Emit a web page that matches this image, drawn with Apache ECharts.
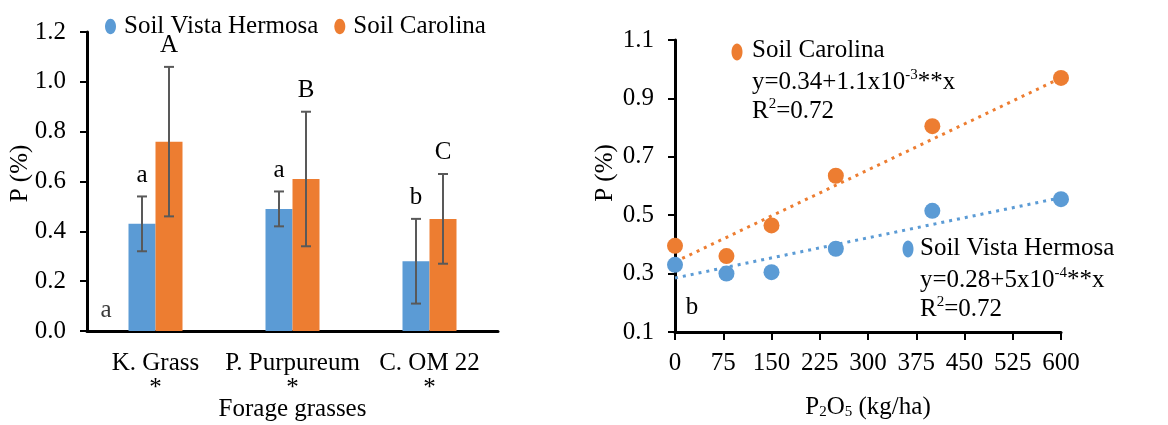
<!DOCTYPE html>
<html><head><meta charset="utf-8">
<script src="https://cdn.jsdelivr.net/npm/echarts@6/dist/echarts.min.js"></script>
<style>html,body{margin:0;padding:0;background:#fff}#c{width:1168px;height:425px}</style>
</head><body><div id="c"></div>
<script>
// ---- Left panel data (bar chart) ----
const categories = ['K. Grass', 'P. Purpureum', 'C. OM 22'];
const categoryMarks = ['*', '*', '*'];
const vistaMeans = [0.43, 0.49, 0.28];
const carolinaMeans = [0.76, 0.61, 0.45];
const vistaLow = [0.32, 0.42, 0.11];
const vistaHigh = [0.54, 0.56, 0.45];
const carolinaLow = [0.46, 0.34, 0.27];
const carolinaHigh = [1.06, 0.88, 0.63];
const vistaLetters = ['a', 'a', 'b'];
const carolinaLetters = ['A', 'B', 'C'];
const leftTicks = [0, 1.2, 0.2]; // min, max, interval

// ---- Right panel data (scatter + trend) ----
const doses = [0, 80, 150, 250, 400, 600];
const carolinaP = [0.395, 0.36, 0.465, 0.635, 0.805, 0.97];
const vistaP = [0.33, 0.30, 0.305, 0.385, 0.515, 0.555];
const trendX = [0, 600];
const carolinaTrend = [0.34, 0.97];
const vistaTrend = [0.285, 0.56];
const rightYTicks = [0.1, 1.1, 0.2];
const rightXTicks = [0, 600, 75];

const FONT = "'Liberation Serif','Times New Roman',serif";
const BLUE = '#5B9BD5', ORANGE = '#ED7D31', ERR = '#595959';
const FS = 25;
const BAR_W = 27;

const chart = echarts.init(document.getElementById('c'));

function errRender(sign, letters) {
  return function (params, api) {
    const idx = api.value(0);
    const top = api.coord([idx, api.value(2)]);
    const bot = api.coord([idx, api.value(1)]);
    const x = top[0] + sign * BAR_W / 2;
    const cap = 5;
    const st = { stroke: ERR, lineWidth: 2 };
    return {
      type: 'group',
      children: [
        { type: 'line', shape: { x1: x, y1: top[1], x2: x, y2: bot[1] }, style: st },
        { type: 'line', shape: { x1: x - cap, y1: top[1], x2: x + cap, y2: top[1] }, style: st },
        { type: 'line', shape: { x1: x - cap, y1: bot[1], x2: x + cap, y2: bot[1] }, style: st },
        { type: 'text', x: x, y: top[1] - 9,
          style: { text: letters[params.dataIndex], fontFamily: FONT, fontSize: FS, fill: '#000', align: 'center', verticalAlign: 'bottom' } }
      ]
    };
  };
}

const ellipsePath = 'path://M5,0 C7.76,0 10,3.13 10,7 C10,10.87 7.76,14 5,14 C2.24,14 0,10.87 0,7 C0,3.13 2.24,0 5,0 Z';

const txt = { fontFamily: FONT, fontSize: FS, color: '#000' };
const supRich = {
  sup: { fontFamily: FONT, fontSize: 15, color: '#000', verticalAlign: 'top', lineHeight: 14 },
  sub: { fontFamily: FONT, fontSize: 15, color: '#000', verticalAlign: 'bottom', lineHeight: 14 }
};

const option = {
  animation: false,
  textStyle: { fontFamily: FONT },
  legend: {
    data: ['Soil Vista Hermosa', 'Soil Carolina'],
    left: 100, top: 9,
    icon: ellipsePath, itemWidth: 11, itemHeight: 17, itemGap: 16,
    textStyle: { fontFamily: FONT, fontSize: FS, color: '#000', padding: [0, 0, 0, 3] }
  },
  grid: [
    { left: 87, top: 32, width: 411, height: 299, outerBoundsMode: 'none', containLabel: false },
    { left: 675, top: 40, width: 386, height: 292, outerBoundsMode: 'none', containLabel: false }
  ],
  xAxis: [
    {
      type: 'category', gridIndex: 0, data: categories,
      axisLine: { lineStyle: { color: '#000', width: 3 } },
      axisTick: { show: false },
      axisLabel: {
        margin: 20, interval: 0,
        formatter: (v, i) => v + '\n' + categoryMarks[i],
        fontFamily: FONT, fontSize: FS, color: '#000', lineHeight: 25
      },
      name: 'Forage grasses', nameLocation: 'middle', nameGap: 66, nameMoveOverlap: false,
      nameTextStyle: txt
    },
    {
      type: 'value', gridIndex: 1, min: rightXTicks[0], max: rightXTicks[1], interval: rightXTicks[2],
      axisLine: { onZero: false, lineStyle: { color: '#000', width: 3 } },
      axisTick: { show: true, length: 8, lineStyle: { color: '#000', width: 2 } },
      splitLine: { show: false },
      axisLabel: { margin: 19, fontFamily: FONT, fontSize: FS, color: '#000' },
      name: 'P{sub|2}O{sub|5} (kg/ha)', nameLocation: 'middle', nameGap: 63, nameMoveOverlap: false,
      nameTextStyle: Object.assign({}, txt, { rich: supRich })
    }
  ],
  yAxis: [
    {
      type: 'value', gridIndex: 0, min: leftTicks[0], max: leftTicks[1], interval: leftTicks[2],
      axisLine: { show: true, lineStyle: { color: '#000', width: 3 } },
      axisTick: { show: true, length: 7, lineStyle: { color: '#000', width: 2 } },
      splitLine: { show: false },
      axisLabel: { margin: 21, formatter: v => v.toFixed(1), fontFamily: FONT, fontSize: FS, color: '#000' },
      name: 'P (%)', nameLocation: 'middle', nameGap: 54, nameRotate: 90, nameMoveOverlap: false,
      nameTextStyle: Object.assign({}, txt, { padding: [0, 0, 0, 16] })
    },
    {
      type: 'value', gridIndex: 1, min: rightYTicks[0], max: rightYTicks[1], interval: rightYTicks[2],
      axisLine: { show: true, onZero: false, lineStyle: { color: '#000', width: 3 } },
      axisTick: { show: true, length: 7, lineStyle: { color: '#000', width: 2 } },
      splitLine: { show: false },
      axisLabel: { margin: 21, formatter: v => v.toFixed(1), fontFamily: FONT, fontSize: FS, color: '#000' },
      name: 'P (%)', nameLocation: 'middle', nameGap: 57, nameRotate: 90, nameMoveOverlap: false,
      nameTextStyle: Object.assign({}, txt, { padding: [0, 0, 0, 26] })
    }
  ],
  series: [
    { name: 'Soil Vista Hermosa', type: 'bar', xAxisIndex: 0, yAxisIndex: 0, data: vistaMeans,
      barWidth: BAR_W, barGap: '0%', itemStyle: { color: BLUE } },
    { name: 'Soil Carolina', type: 'bar', xAxisIndex: 0, yAxisIndex: 0, data: carolinaMeans,
      barWidth: BAR_W, barGap: '0%', itemStyle: { color: ORANGE } },
    { name: 'errVista', type: 'custom', xAxisIndex: 0, yAxisIndex: 0, z: 5,
      data: categories.map((c, i) => [i, vistaLow[i], vistaHigh[i]]),
      renderItem: errRender(-1, vistaLetters) },
    { name: 'errCarolina', type: 'custom', xAxisIndex: 0, yAxisIndex: 0, z: 5,
      data: categories.map((c, i) => [i, carolinaLow[i], carolinaHigh[i]]),
      renderItem: errRender(1, carolinaLetters) },
    { name: 'trendCarolina', type: 'line', xAxisIndex: 1, yAxisIndex: 1, showSymbol: false, z: 1,
      data: trendX.map((x, i) => [x, carolinaTrend[i]]),
      lineStyle: { color: ORANGE, width: 3, type: [3, 5] } },
    { name: 'trendVista', type: 'line', xAxisIndex: 1, yAxisIndex: 1, showSymbol: false, z: 1,
      data: trendX.map((x, i) => [x, vistaTrend[i]]),
      lineStyle: { color: BLUE, width: 3, type: [3, 5] } },
    { name: 'Carolina dose', type: 'scatter', xAxisIndex: 1, yAxisIndex: 1, symbolSize: 16, z: 3,
      data: doses.map((d, i) => [d, carolinaP[i]]), itemStyle: { color: ORANGE, opacity: 1 } },
    { name: 'Vista dose', type: 'scatter', xAxisIndex: 1, yAxisIndex: 1, symbolSize: 16, z: 3,
      data: doses.map((d, i) => [d, vistaP[i]]), itemStyle: { color: BLUE, opacity: 1 } }
  ],
  graphic: [
    { type: 'text', x: 106, y: 310, style: { text: 'a', fontFamily: FONT, fontSize: FS, fill: '#3a3a3a', align: 'center', verticalAlign: 'middle' } },
    { type: 'text', x: 692, y: 307, style: { text: 'b', fontFamily: FONT, fontSize: FS, fill: '#000', align: 'center', verticalAlign: 'middle' } },
    { type: 'ellipse', shape: { cx: 737, cy: 52, rx: 5.5, ry: 8.5 }, style: { fill: ORANGE } },
    { type: 'text', x: 752, y: 50, style: { text: 'Soil Carolina', fontFamily: FONT, fontSize: FS, fill: '#000', verticalAlign: 'middle' } },
    { type: 'text', x: 752, y: 82, style: { text: 'y=0.34+1.1x10{sup|-3}**x', fontFamily: FONT, fontSize: FS, fill: '#000', verticalAlign: 'middle', lineHeight: 28, rich: supRich } },
    { type: 'text', x: 752, y: 111, style: { text: 'R{sup|2}=0.72', fontFamily: FONT, fontSize: FS, fill: '#000', verticalAlign: 'middle', lineHeight: 28, rich: supRich } },
    { type: 'ellipse', shape: { cx: 908, cy: 249, rx: 5.5, ry: 8.5 }, style: { fill: BLUE } },
    { type: 'text', x: 920, y: 248, style: { text: 'Soil Vista Hermosa', fontFamily: FONT, fontSize: FS, fill: '#000', verticalAlign: 'middle' } },
    { type: 'text', x: 920, y: 280, style: { text: 'y=0.28+5x10{sup|-4}**x', fontFamily: FONT, fontSize: FS, fill: '#000', verticalAlign: 'middle', lineHeight: 28, rich: supRich } },
    { type: 'text', x: 920, y: 309, style: { text: 'R{sup|2}=0.72', fontFamily: FONT, fontSize: FS, fill: '#000', verticalAlign: 'middle', lineHeight: 28, rich: supRich } }
  ]
};
chart.setOption(option);
</script>
</body></html>
